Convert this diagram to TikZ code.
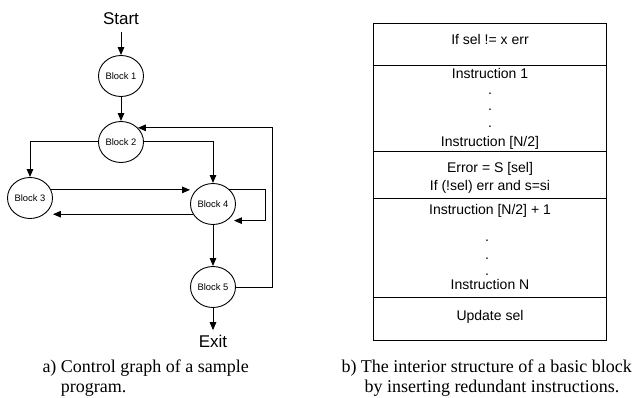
\documentclass[tikz,border=0pt]{standalone}
\usepackage{fontspec}
\setmainfont{Liberation Serif}
\newfontfamily\arialfont{Liberation Sans}
\usetikzlibrary{positioning,arrows.meta,shapes.geometric}

\begin{document}
\begin{tikzpicture}[
    x=1pt, y=-1pt,
    >={Triangle[length=8pt,width=6.5pt]},
    line width=1pt,
    blockn/.style={ellipse, draw, line width=0.9pt, minimum width=45pt, minimum height=41pt,
                   inner sep=0pt, font=\arialfont\fontsize{9.4}{10}\selectfont},
    term/.style={inner sep=0pt, font=\arialfont\fontsize{17}{19}\selectfont},
    instr/.style={inner sep=0pt, anchor=base, font=\arialfont\fontsize{14}{16}\selectfont},
    captxt/.style={inner sep=0pt, anchor=north west, align=left, font=\fontsize{18}{20}\selectfont},
  ]
    \useasboundingbox (0,0) rectangle (640,398);

    % ---------- (a) control graph ----------
    \node[term, anchor=base] (st) at (121,25)  {Start};
    \node[blockn] (b1) at (121,76)  {Block 1};
    \node[blockn] (b2) at (121,142) {Block 2};
    \node[blockn] (b3) at (30,198)  {Block 3};
    \node[blockn] (b4) at (213,204) {Block 4};
    \node[blockn] (b5) at (213,287) {Block 5};
    \node[term, anchor=base] (ex) at (213,347) {Exit};

    \draw[->] ([yshift=-6pt]st.south) -- (b1);
    \foreach \a/\b in {b1/b2, b4/b5} \draw[->] (\a) -- (\b);
    \draw[->] (b5) -- ([yshift=4pt]ex.north);
    \draw[->] (b2.west) -| (b3.north);
    \draw[->] (b2.east) -| (b4.north);
    \draw[->] (b3.21) -- (b3.21 -| b4.west);
    \draw[->] (b4.-153) -- (b4.-153 -| b3.east);
    \draw[->] (b4.42) -- ++(36,0) |- ([xshift=7pt]b4.-50);
    \draw[->] (b5.east) -- ++(37,0) |- (b2.40);

    \node[captxt] (capa) at (42,359) {a) Control graph of a sample\\\hphantom{a) }program.};

    % ---------- (b) interior of a basic block ----------
    \draw[line width=0.9pt] (373,23) rectangle (606,340);
    \foreach \y in {65,151,198,297} \draw[line width=0.9pt] (373,\y) -- (606,\y);

    \node[instr] (chk) at (490,45)  {If sel != x err};
    \node[instr] (i1)  at (490,79)  {Instruction 1};
    \foreach \y in {95,111,128} \node[instr] at (490,\y) {.};
    \node[instr] (ih)  at (490,147) {Instruction [N/2]};
    \node[instr] (er)  at (490,173) {Error = S [sel]};
    \node[instr] (tst) at (490,191) {If (!sel) err and s=si};
    \node[instr] (ih1) at (490,215) {Instruction [N/2] + 1};
    \foreach \y in {242,259,276} \node[instr] at (487,\y) {.};
    \node[instr] (in)  at (490,289) {Instruction N};
    \node[instr] (up)  at (490,320) {Update sel};

    \node[captxt] (capb) at (341,359) {b) The interior structure of a basic block\\\hspace*{23pt}by inserting redundant instructions.};
  \end{tikzpicture}
\end{document}
